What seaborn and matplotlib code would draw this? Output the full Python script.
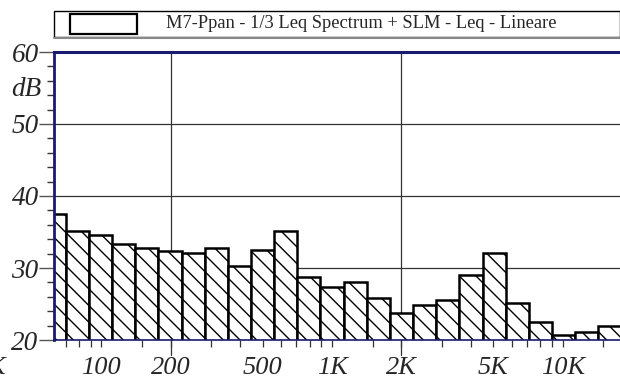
import numpy as np
import matplotlib
matplotlib.use('Agg')
import matplotlib.pyplot as plt
import matplotlib.patches as mpatches
from matplotlib.ticker import MultipleLocator, FixedLocator, NullFormatter
import seaborn as sns

# 1/3 octave bands (nominal Hz) and Leq levels (dB)
bands = [63, 80, 100, 125, 160, 200, 250, 315, 400, 500, 630, 800,
         1000, 1250, 1600, 2000, 2500, 3150, 4000, 5000, 6300, 8000,
         10000, 12500, 16000]
levels = [37.5, 35.1, 34.6, 33.3, 32.8, 32.4, 32.1, 32.8, 30.3, 32.5, 35.1, 28.8,
          27.3, 28.1, 25.9, 23.8, 24.9, 25.5, 29.0, 32.1, 25.1, 22.5,
          20.7, 21.1, 21.9]
xtick_vals = [100, 200, 500, 1000, 2000, 5000, 10000]
xtick_labels = ['100', '200', '500', '1K', '2K', '5K', '10K']
xminor_vals = [70, 80, 90, 150, 300, 400, 600, 700, 800, 900,
               1500, 3000, 4000, 6000, 7000, 8000, 9000, 15000]
legend_label = 'M7-Ppan - 1/3 Leq Spectrum + SLM - Leq - Lineare'

# exact band centres so the bars sit edge to edge on the log axis
nominal = np.array(bands, dtype=float)
centres = 1000 * 2 ** (np.round(3 * np.log2(nominal / 1000)) / 3)

sns.set_style('white')
plt.rcParams['font.family'] = ['Liberation Serif', 'DejaVu Serif']
plt.rcParams['hatch.linewidth'] = 1.0

navy = '#1a1a6e'
fig = plt.figure(figsize=(6.2, 3.78), dpi=100)
ax = fig.add_axes([54 / 620, 1 - 340 / 378, 1 - 54 / 620, (340 - 52) / 378])

sns.barplot(x=centres, y=levels, native_scale=True, log_scale=(True, False),
            width=1, color='white', saturation=1, edgecolor='black',
            linewidth=1.8, hatch='\\\\', ax=ax, zorder=2)

ax.set_xlim(62.4, 17700)
ax.set_ylim(20, 60)

# grid lines behind bars
for yv in [30, 40, 50]:
    ax.axhline(yv, color='#333333', lw=0.9, zorder=0.5)
for xv in [200, 2000]:
    ax.axvline(xv, ymin=-0.052, ymax=1, color='#333333', lw=0.9, zorder=0.5, clip_on=False)

ax.spines['right'].set_visible(False)
ax.spines['top'].set_color(navy)
ax.spines['top'].set_linewidth(2.2)
ax.spines['left'].set_color(navy)
ax.spines['left'].set_linewidth(2.0)
ax.spines['bottom'].set_color(navy)
ax.spines['bottom'].set_linewidth(1.2)
for s in ax.spines.values():
    s.set_zorder(3)

ax.yaxis.set_major_locator(FixedLocator([20, 30, 40, 50, 60]))
ax.yaxis.set_minor_locator(MultipleLocator(2))
ax.set_yticklabels(['20', '30', '40', '50', '60'], fontsize=19.5, style='italic')
ax.tick_params(axis='y', which='major', left=True, length=11, width=1.0,
               color='#555555', pad=0)
ax.tick_params(axis='y', which='minor', left=True, length=5, width=1.0,
               color='#333333')

ax.xaxis.set_major_locator(FixedLocator(xtick_vals))
ax.xaxis.set_minor_locator(FixedLocator(xminor_vals))
ax.xaxis.set_minor_formatter(NullFormatter())
ax.set_xticklabels(xtick_labels, fontsize=19, style='italic')
ax.tick_params(axis='x', which='major', bottom=True, length=5, width=0.9,
               color='#333333', pad=7)
ax.tick_params(axis='x', which='minor', bottom=True, length=5, width=0.9,
               color='#333333')
ax.set_xlabel('')
ax.set_ylabel('')

fig.text(26 / 620, 1 - 90 / 378, 'dB', fontsize=19.5, style='italic',
         ha='center', va='center')
fig.text(-13 / 620, 1 - 368 / 378, 'K', fontsize=19, style='italic',
         ha='left', va='center')

# legend strip on top
box = mpatches.Rectangle((54 / 620, 1 - 37 / 378), (620 - 54) / 620, 26 / 378,
                         transform=fig.transFigure, facecolor='white',
                         edgecolor='black', lw=1.0)
fig.patches.append(box)
fig.add_artist(plt.Line2D([54 / 620, 1], [1 - 38 / 378] * 2, color='#888888',
                          lw=1.5, transform=fig.transFigure))
swatch = mpatches.Rectangle((70 / 620, 1 - 34 / 378), 67 / 620, 20 / 378,
                            transform=fig.transFigure, facecolor='white',
                            edgecolor='black', lw=1.6)
fig.patches.append(swatch)
fig.text(166 / 620, 1 - 23.5 / 378, legend_label, fontsize=13.3,
         ha='left', va='center')

fig.savefig('out.png', dpi=100)
